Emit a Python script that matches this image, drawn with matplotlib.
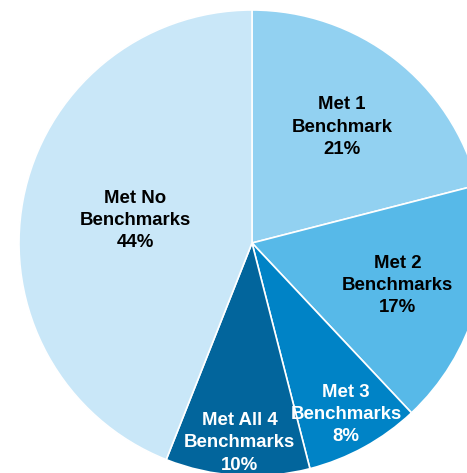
import matplotlib.pyplot as plt
import numpy as np

labels = ["Met 1\nBenchmark", "Met 2\nBenchmarks", "Met 3\nBenchmarks",
          "Met All 4\nBenchmarks", "Met No\nBenchmarks"]
shares = [21, 17, 8, 10, 44]
colors = ["#92d1f1", "#57b9e8", "#0083c6", "#02659c", "#c9e7f8"]
text_colors = ["black", "black", "white", "white", "black"]
label_r = [0.63, 0.65, 0.84, 0.86, 0.51]

plt.rcParams["font.family"] = ["Liberation Sans", "DejaVu Sans"]

fig = plt.figure(figsize=(4.67, 4.73), dpi=100)
ax = fig.add_axes([0, 0, 1, 1])

wedges, _ = ax.pie(shares, colors=colors, startangle=90, counterclock=False,
                   radius=1.0, wedgeprops=dict(edgecolor="white", linewidth=1.2))

for w, lab, pct, tc, r in zip(wedges, labels, shares, text_colors, label_r):
    mid = np.deg2rad((w.theta1 + w.theta2) / 2)
    ax.text(r * np.cos(mid), r * np.sin(mid), "%s\n%d%%" % (lab, pct),
            ha="center", va="center", fontsize=13.4, fontweight="bold",
            color=tc, linespacing=1.4)

ax.set_xlim(-252 / 233, (467 - 252) / 233)
ax.set_ylim(-(473 - 243) / 233, 243 / 233)
ax.axis("off")

plt.savefig("out.png", dpi=100)
